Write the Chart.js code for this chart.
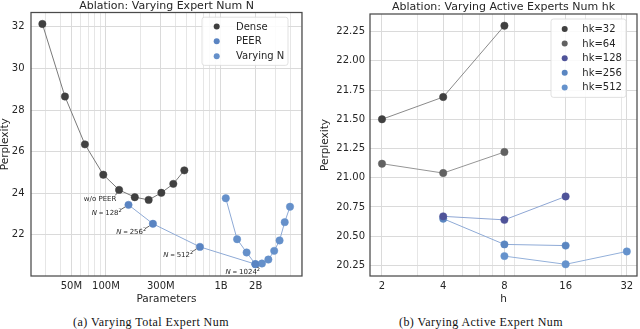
<!DOCTYPE html>
<html>
<head>
<meta charset="utf-8">
<script src="https://cdn.jsdelivr.net/npm/chart.js@4.4.1/dist/chart.umd.min.js"></script>
<style>
  body { margin: 0; background: #fff; }
  #wrap { position: relative; width: 640px; height: 329px; overflow: hidden; }
  .box { position: absolute; top: 0; width: 320px; height: 310px; }
  .cap { position: absolute; top: 315px; font-family: "Liberation Serif", serif; font-size: 12px;
         letter-spacing: 0.45px; color: #111; white-space: nowrap; transform: translateX(-50%); }
</style>
</head>
<body>
<div id="wrap">
  <div class="box" style="left:0"><canvas id="left"></canvas></div>
  <div class="box" style="left:320px"><canvas id="right"></canvas></div>
  <div class="cap" style="left:151px">(a) Varying Total Expert Num</div>
  <div class="cap" style="left:481px">(b) Varying Active Expert Num</div>
</div>
<script>
// left panel: perplexity vs parameters
const denseParams = [28e6, 44e6, 65.6e6, 94.8e6, 130e6, 178e6, 235e6, 303e6, 385e6, 480e6];
const densePpl    = [32.14, 28.65, 26.35, 24.89, 24.16, 23.81, 23.68, 24.02, 24.45, 25.10];
const peerParams  = [157e6, 256e6, 656e6, 1.99e9];
const peerPpl     = [23.44, 22.53, 21.42, 20.59];
const varyParams  = [1.1e9, 1.38e9, 1.67e9, 1.99e9, 2.27e9, 2.58e9, 2.9e9, 3.23e9, 3.58e9, 3.98e9];
const varyPpl     = [23.76, 21.79, 21.15, 20.59, 20.62, 20.81, 21.23, 21.73, 22.61, 23.35];
const nLabels     = ['128', '256', '512', '1024'];
const paramTicks  = [5e7, 1e8, 3e8, 1e9, 2e9];
const paramTickLabels = ['50M', '100M', '300M', '1B', '2B'];
const paramGrid   = [3e7, 4e7, 5e7, 6e7, 7e7, 8e7, 9e7, 1e8, 2e8, 3e8, 4e8, 5e8, 6e8, 7e8, 8e8, 9e8, 1e9, 2e9, 3e9, 4e9, 5e9];
const pplTicksA   = [22, 24, 26, 28, 30, 32];

// right panel: perplexity vs h for fixed hk
const hkLabels = ['hk=32', 'hk=64', 'hk=128', 'hk=256', 'hk=512'];
const hk32H = [2, 4, 8],   hk32Ppl  = [21.50, 21.69, 22.30];
const hk64H = [2, 4, 8],   hk64Ppl  = [21.12, 21.04, 21.22];
const hk128H = [4, 8, 16], hk128Ppl = [20.67, 20.64, 20.84];
const hk256H = [4, 8, 16], hk256Ppl = [20.65, 20.43, 20.42];
const hk512H = [8, 16, 32], hk512Ppl = [20.33, 20.26, 20.37];
const hTicks = [2, 4, 8, 16, 32];
const hGrid  = [2, 3, 4, 5, 6, 7, 8, 9, 16, 20, 30, 32];
const pplTicksB = [20.25, 20.50, 20.75, 21.00, 21.25, 21.50, 21.75, 22.00, 22.25];

const FONT = 'DejaVu Sans';
const TXT = '#262626';

function pts(xs, ys) { return xs.map((x, i) => ({x: x, y: ys[i]})); }

function series(label, xs, ys, dot, line) {
  return {
    label: label, data: pts(xs, ys),
    borderColor: line, borderWidth: 1, tension: 0,
    pointBackgroundColor: dot, pointBorderColor: dot, pointBorderWidth: 0.5,
    pointRadius: 3.7, pointHoverRadius: 3.7
  };
}

const frame = {
  id: 'frame',
  afterDraw(chart, args, o) {
    const {ctx, chartArea: a} = chart;
    ctx.save();
    ctx.strokeStyle = '#4a4a4a';
    ctx.lineWidth = 1.25;
    ctx.strokeRect(a.left, a.top, a.right - a.left, a.bottom - a.top);
    ctx.fillStyle = TXT;
    ctx.font = '11px "' + FONT + '"';
    ctx.textAlign = 'center';
    ctx.textBaseline = 'alphabetic';
    ctx.fillText(o.title, (a.left + a.right) / 2, a.top - 4);
    ctx.restore();
  }
};

const boxLegend = {
  id: 'boxLegend',
  afterDraw(chart, args, o) {
    const {ctx, chartArea: a} = chart;
    const items = chart.data.datasets;
    const h = o.rowH * items.length + o.padY * 2;
    const x = a.right - o.right - o.width, y = a.top + o.top;
    ctx.save();
    ctx.beginPath();
    ctx.roundRect(x, y, o.width, h, 2.5);
    ctx.fillStyle = 'rgba(255,255,255,0.85)';
    ctx.fill();
    ctx.strokeStyle = '#d9d9d9';
    ctx.lineWidth = 0.8;
    ctx.stroke();
    ctx.font = '10px "' + FONT + '"';
    ctx.textBaseline = 'middle';
    items.forEach((d, i) => {
      const cy = y + o.padY + o.rowH * (i + 0.5);
      ctx.beginPath();
      ctx.arc(x + o.markX, cy, 3, 0, Math.PI * 2);
      ctx.fillStyle = d.pointBackgroundColor;
      ctx.fill();
      ctx.fillStyle = TXT;
      ctx.fillText(d.label, x + o.textX, cy + 0.5);
    });
    ctx.restore();
  }
};

// labels next to points, with a short pointer line
const pointNotes = {
  id: 'pointNotes',
  afterDatasetsDraw(chart, args, o) {
    const {ctx} = chart;
    ctx.save();
    ctx.fillStyle = TXT;
    ctx.textBaseline = 'middle';
    o.notes.forEach(n => {
      const p = chart.getDatasetMeta(n.ds).data[n.idx];
      const cx = p.x + n.dx, cy = p.y + n.dy;
      const s = 7;
      let parts;
      if (n.text) parts = [[n.text, 'normal', s, 0]];
      else parts = [['N', 'italic', s, 0], [' = ', 'normal', s * 0.8, 0], [n.n, 'normal', s, 0], ['2', 'normal', s * 0.7, -2.8]];
      let w = 0;
      parts.forEach(q => { ctx.font = q[1] + ' ' + q[2] + 'px "' + FONT + '"'; q.push(ctx.measureText(q[0]).width); w += q[4]; });
      let x = cx - w / 2;
      ctx.textAlign = 'left';
      parts.forEach(q => {
        ctx.font = q[1] + ' ' + q[2] + 'px "' + FONT + '"';
        ctx.fillText(q[0], x, cy + q[3]);
        x += q[4];
      });
      // pointer
      const sx = cx + w / 2 - 1, sy = cy - 4;
      const vx = p.x - sx, vy = p.y - sy, len = Math.hypot(vx, vy);
      if (len > 5) {
        const ex = p.x - vx / len * 4, ey = p.y - vy / len * 4;
        ctx.strokeStyle = '#555';
        ctx.lineWidth = 0.9;
        ctx.beginPath();
        ctx.moveTo(sx, sy);
        ctx.lineTo(ex, ey);
        ctx.stroke();
      }
    });
    ctx.restore();
  }
};

function axisTitle(text) {
  return {display: true, text: text, color: TXT, font: {family: FONT, size: 10.5, lineHeight: 1}, padding: {top: 0, bottom: 5.5}};
}
function gridColor(labeled) {
  return ctx => (ctx.tick && labeled.includes(ctx.tick.value)) ? '#dadada' : '#e6e6e6';
}

function makeOptions(cfg) {
  return {
    responsive: true, maintainAspectRatio: false, animation: false,
    layout: {padding: {left: 0, top: cfg.top, right: cfg.right, bottom: 0}, autoPadding: false},
    plugins: {
      legend: {display: false}, tooltip: {enabled: false},
      frame: {title: cfg.title},
      boxLegend: cfg.legend,
      pointNotes: {notes: cfg.notes || []}
    },
    scales: {
      x: {
        type: 'logarithmic', min: cfg.xMin, max: cfg.xMax,
        afterBuildTicks: ax => { ax.ticks = cfg.xGrid.map(v => ({value: v})); },
        afterFit: ax => { ax.height = 34; },
        ticks: {
          autoSkip: false, maxRotation: 0, minRotation: 0, padding: 4.5, color: TXT,
          font: {family: FONT, size: 10},
          callback: v => { const i = cfg.xTicks.indexOf(v); return i >= 0 ? cfg.xLabels[i] : ''; }
        },
        grid: {color: gridColor(cfg.xTicks), lineWidth: 1, drawTicks: false},
        border: {display: false},
        title: axisTitle(cfg.xTitle)
      },
      y: {
        min: cfg.yMin, max: cfg.yMax,
        afterBuildTicks: ax => { ax.ticks = cfg.yTicks.map(v => ({value: v})); },
        afterFit: ax => { ax.width = cfg.yWidth; },
        ticks: {padding: cfg.yPad, color: TXT, font: {family: FONT, size: 10}, callback: cfg.yFmt},
        grid: {color: '#dadada', lineWidth: 1, drawTicks: false},
        border: {display: false},
        title: {display: true, text: 'Perplexity', color: TXT, font: {family: FONT, size: 10.5, lineHeight: 1}, padding: {top: 0, bottom: 0}}
      }
    }
  };
}

new Chart(document.getElementById('left'), {
  type: 'line',
  data: {datasets: [
    series('Dense', denseParams, densePpl, '#404040', '#7a7a7a'),
    series('PEER', peerParams, peerPpl, '#5a84c2', '#8eaad6'),
    series('Varying N', varyParams, varyPpl, '#6590ca', '#8eaad6')
  ]},
  options: makeOptions({
    title: 'Ablation: Varying Expert Num N', top: 12, right: 18, yWidth: 31, yPad: 6.5,
    xMin: 22.3e6, xMax: 5.06e9, xGrid: paramGrid, xTicks: paramTicks, xLabels: paramTickLabels, xTitle: 'Parameters',
    yMin: 20.02, yMax: 32.69, yTicks: pplTicksA, yFmt: v => String(v),
    legend: {width: 86, rowH: 14.85, padY: 1.8, top: 4.7, right: 14, markX: 14.7, textX: 34},
    notes: [{ds: 0, idx: 4, text: 'w/o PEER', dx: -19, dy: 9.5}]
      .concat(nLabels.map((n, i) => ({ds: 1, idx: i, n: n, dx: i === 3 ? -12.6 : -21.8, dy: i === 3 ? 8.3 : 8.8})))
  }),
  plugins: [frame, boxLegend, pointNotes]
});

new Chart(document.getElementById('right'), {
  type: 'line',
  data: {datasets: [
    series(hkLabels[0], hk32H, hk32Ppl, '#404040', '#8a8a8a'),
    series(hkLabels[1], hk64H, hk64Ppl, '#616161', '#959595'),
    series(hkLabels[2], hk128H, hk128Ppl, '#4f5399', '#8ea6d4'),
    series(hkLabels[3], hk256H, hk256Ppl, '#5a86c1', '#8eaad6'),
    series(hkLabels[4], hk512H, hk512Ppl, '#6592cc', '#93b0da')
  ]},
  options: makeOptions({
    title: 'Ablation: Varying Active Experts Num hk', top: 14, right: 3, yWidth: 50, yPad: 5,
    xMin: 1.746, xMax: 35.9, xGrid: hGrid, xTicks: hTicks, xLabels: hTicks.map(String), xTitle: 'h',
    yMin: 20.16, yMax: 22.40, yTicks: pplTicksB, yFmt: v => v.toFixed(2),
    legend: {width: 75, rowH: 14.6, padY: 2.7, top: 5, right: 11, markX: 13.7, textX: 31.3}
  }),
  plugins: [frame, boxLegend]
});
</script>
</body>
</html>
